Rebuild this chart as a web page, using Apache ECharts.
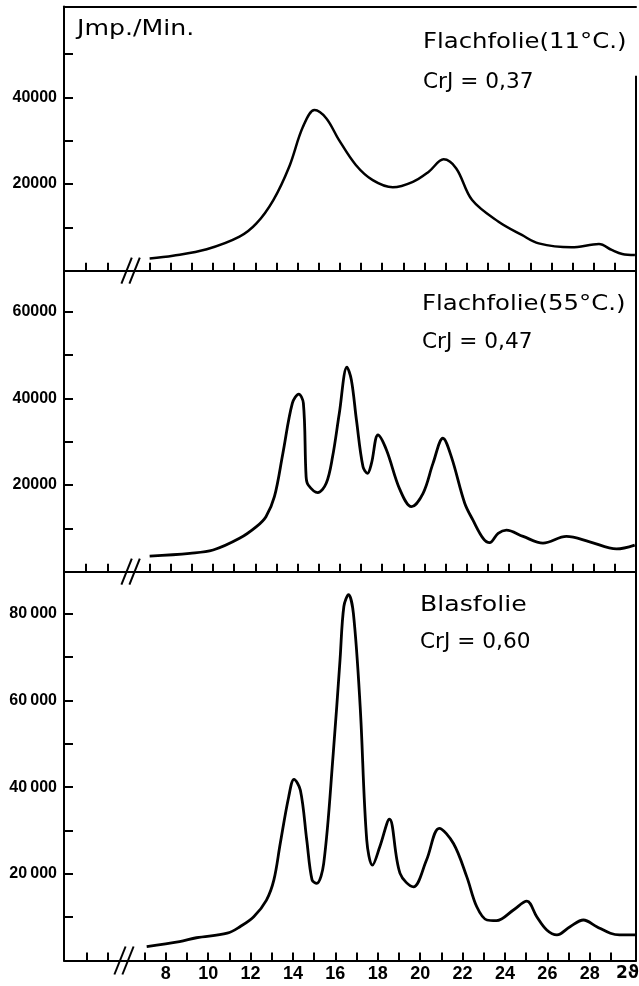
<!DOCTYPE html>
<html><head><meta charset="utf-8">
<script src="https://cdn.jsdelivr.net/npm/echarts@6/dist/echarts.min.js"></script>
<style>html,body{margin:0;padding:0;background:#fff}#c{width:639px;height:986px}</style>
</head><body><div id="c"></div>
<script>
// ---- data (2θ in degrees, intensity in Imp./Min.) ----
const topX = [7.0, 8.1, 9.7, 11.25, 12.05, 12.85, 13.6, 14.25, 14.8, 15.35, 15.95, 16.75, 17.55, 18.5, 19.45, 20.2, 20.9, 21.5, 22.25, 23.5, 24.6, 25.4, 26.95, 28.25, 28.85, 29.35, 29.95];
const topY = [2800, 3450, 4950, 7850, 10900, 16300, 24000, 33200, 37100, 35200, 30200, 24400, 20900, 19250, 20500, 22850, 25700, 23600, 16300, 11300, 8250, 6300, 5400, 6150, 4800, 3850, 3600];

const midX = [7.0, 8.9, 10.0, 11.25, 12.05, 12.5, 12.9, 13.3, 13.75, 14.05, 14.27, 14.4, 14.5, 14.95, 15.35, 15.65, 15.97, 16.33, 16.54, 16.78, 17.09, 17.3, 17.49, 17.8, 18.2, 18.83, 19.38, 19.93, 20.4, 20.87, 21.27, 21.9, 22.29, 22.77, 23.08, 23.48, 23.87, 24.66, 25.6, 26.71, 27.81, 29.08, 29.94];
const midY = [3600, 4250, 5000, 7700, 10400, 12700, 17300, 27300, 38900, 41000, 38900, 21900, 20000, 18250, 20400, 26500, 36550, 47200, 44250, 35000, 24200, 22700, 25000, 31550, 28100, 19000, 15000, 18100, 25000, 30800, 26500, 15800, 11900, 7700, 6700, 8850, 9600, 8150, 6600, 8150, 6900, 5250, 6150];

const botX = [7.1, 8.65, 9.45, 10.9, 11.5, 12.15, 12.75, 13.1, 13.4, 13.8, 14.05, 14.35, 14.65, 14.9, 15.12, 15.45, 15.9, 16.22, 16.4, 16.62, 16.85, 17.17, 17.48, 17.75, 18.1, 18.55, 19.05, 19.68, 20.3, 20.9, 21.57, 22.2, 22.67, 23.15, 23.6, 24.4, 25.03, 25.5, 25.97, 26.45, 27.07, 27.7, 28.33, 28.97, 29.4, 30.15];
const botY = [3200, 4350, 5250, 6300, 7800, 10100, 13950, 18600, 27000, 37800, 41800, 39300, 27800, 18600, 17800, 22400, 47800, 69400, 81700, 84400, 80100, 58600, 27800, 22000, 26300, 32600, 20100, 17000, 23200, 30500, 27000, 19300, 12400, 9350, 9200, 11650, 13700, 10100, 7050, 5900, 7800, 9350, 7800, 6300, 5900, 5900];

// ---- ticks & labels ----
const xTicksUpper = [4, 5, 7, 8, 9, 10, 11, 12, 13, 14, 15, 16, 17, 18, 19, 20, 21, 22, 23, 24, 25, 26, 27, 28, 29];
const xTicksLower = [4.25, 5.25, 7, 8, 9, 10, 11, 12, 13, 14, 15, 16, 17, 18, 19, 20, 21, 22, 23, 24, 25, 26, 27, 28, 29];
const xLabelValues = [8, 10, 12, 14, 16, 18, 20, 22, 24, 26, 28];
const xAxisTitle = '2\u03d1';

const topYTicks = [10000, 20000, 30000, 40000, 50000];
const topYLabelValues = [20000, 40000];
const topYLabelTexts = ['20000', '40000'];
const midYTicks = [10000, 20000, 30000, 40000, 50000, 60000];
const midYLabelValues = [20000, 40000, 60000];
const midYLabelTexts = ['20000', '40000', '60000'];
const botYTicks = [10000, 20000, 30000, 40000, 50000, 60000, 70000, 80000];
const botYLabelValues = [20000, 40000, 60000, 80000];
const botYLabelTexts = ['20\u2009000', '40\u2009000', '60\u2009000', '80\u2009000'];

const unitText = 'Jmp./Min.';
const panelTitles = ['Flachfolie(11\u00b0C.)', 'Flachfolie(55\u00b0C.)', 'Blasfolie'];
const panelCrJ = ['CrJ = 0,37', 'CrJ = 0,47', 'CrJ = 0,60'];

// ---- chart ----
const zip = (xs, ys) => xs.map((x, i) => [x, ys[i]]);
const chart = echarts.init(document.getElementById('c'), null, {renderer: 'canvas'});
const BLACK = '#000';
const lineAx = {show: true, onZero: false, lineStyle: {color: BLACK, width: 2}};
const upperRange = {min: 2.95, max: 30.0};
const lowerRange = {min: 3.2, max: 30.18};

function xAx(grid, range, ticks, labels) {
  return {
    type: 'value', gridIndex: grid, position: 'bottom', min: range.min, max: range.max,
    axisLine: lineAx,
    axisTick: {show: true, inside: true, length: 8, customValues: ticks, lineStyle: {color: BLACK, width: 2}},
    axisLabel: labels ? {show: true, customValues: labels, margin: 5, color: BLACK,
      fontFamily: 'Liberation Sans', fontWeight: 'bold', fontSize: 18} : {show: false},
    splitLine: {show: false}
  };
}
function yAx(grid, max, ticks, lv, lt) {
  return {
    type: 'value', gridIndex: grid, position: 'left', min: 0, max: max,
    axisLine: lineAx,
    axisTick: {show: true, inside: true, length: 9, customValues: ticks, lineStyle: {color: BLACK, width: 2}},
    axisLabel: {show: true, customValues: lv, margin: 7, color: BLACK,
      fontFamily: 'Liberation Sans', fontWeight: 'bold', fontSize: 16,
      formatter: v => { const i = lv.indexOf(v); return i >= 0 ? lt[i] : ''; }},
    splitLine: {show: false}
  };
}
function frameAx(grid, pos, range) {
  return {type: 'value', gridIndex: grid, position: pos, min: range.min, max: range.max, axisLine: lineAx,
    axisTick: {show: false}, axisLabel: {show: false}, splitLine: {show: false}};
}
const lineSeries = (xi, data, w) => ({
  type: 'line', xAxisIndex: xi, yAxisIndex: xi, data: data, showSymbol: false, smooth: 0.35,
  lineStyle: {color: BLACK, width: w}, silent: true, animation: false
});

const grids = [
  {left: 64, right: 3, top: 6.4, height: 264.3, outerBoundsMode: 'none', containLabel: false},
  {left: 64, right: 3, top: 270.7, height: 301, outerBoundsMode: 'none', containLabel: false},
  {left: 64, right: 3, top: 571.7, height: 388.8, outerBoundsMode: 'none', containLabel: false}
];
chart.setOption({
  animation: false,
  backgroundColor: '#fff',
  grid: grids,
  xAxis: [
    xAx(0, upperRange, xTicksUpper, null),
    xAx(1, upperRange, xTicksUpper, null),
    xAx(2, lowerRange, xTicksLower, xLabelValues),
    frameAx(0, 'top', upperRange)
  ],
  yAxis: [
    yAx(0, 61000, topYTicks, topYLabelValues, topYLabelTexts),
    yAx(1, 69460, midYTicks, midYLabelValues, midYLabelTexts),
    yAx(2, 89720, botYTicks, botYLabelValues, botYLabelTexts),
    frameAx(1, 'right', {min: 0, max: 69460}),
    frameAx(2, 'right', {min: 0, max: 89720})
  ],
  series: [
    lineSeries(0, zip(topX, topY), 2.5),
    lineSeries(1, zip(midX, midY), 2.8),
    lineSeries(2, zip(botX, botY), 2.8)
  ]
});

// ---- decorations: axis breaks, partial right frame, texts ----
const px = (g, x, y) => chart.convertToPixel({gridIndex: g}, [x, y]);
const g = [];
function breakMarks(gi, xv, h) {
  const p = px(gi, xv, 0);
  [-4, 4].forEach(off => {
    g.push({type: 'line', shape: {x1: p[0] + off - h * 0.4, y1: p[1] + h, x2: p[0] + off + h * 0.4, y2: p[1] - h},
      style: {stroke: BLACK, lineWidth: 2}, z: 100});
  });
}
breakMarks(0, 6.1, 13);
breakMarks(1, 6.1, 13);
breakMarks(2, 6.03, 14);
const rTop = px(0, upperRange.max, 45000), rBot = px(0, upperRange.max, 0);
g.push({type: 'line', shape: {x1: rTop[0], y1: rTop[1], x2: rBot[0], y2: rBot[1]}, style: {stroke: BLACK, lineWidth: 2}, z: 100});

const titleFont = '21px "DejaVu Sans"';
function txt(t, x, y, sx, font) {
  g.push({type: 'text', z: 100, x: x, y: y, scaleX: sx,
    style: {text: t, x: 0, y: 0, font: font || titleFont, fill: BLACK, align: 'left', verticalAlign: 'middle'}});
}
txt(unitText, 77, 30, 1.2);
txt(panelTitles[0], 423, 43, 1.16);
txt(panelCrJ[0], 423, 83, 1.03);
txt(panelTitles[1], 422, 305, 1.16);
txt(panelCrJ[1], 422, 343, 1.03);
txt(panelTitles[2], 420, 606, 1.2);
txt(panelCrJ[2], 420, 643, 1.03);
txt(xAxisTitle, 616, 974, 1, 'bold 17px "DejaVu Sans"');

chart.setOption({graphic: {elements: g}});
</script></body></html>
